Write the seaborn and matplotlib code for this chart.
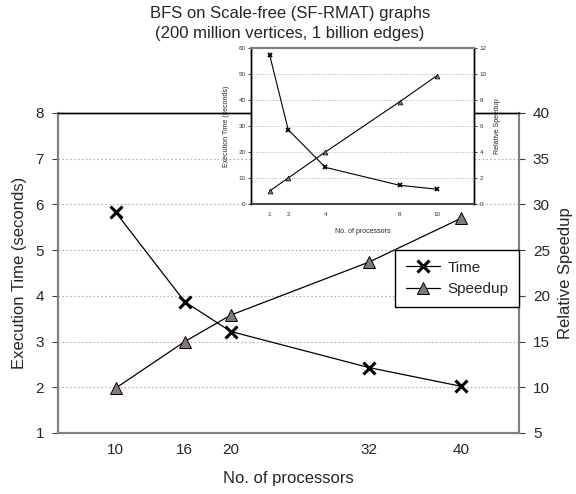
import matplotlib
matplotlib.use("Agg")
import matplotlib.pyplot as plt
import seaborn as sns
import pandas as pd

# main chart: 200M vertices, 1B edges
procs = [10, 16, 20, 32, 40]
exec_time = [5.83, 3.87, 3.22, 2.43, 2.02]
speedup = [9.9, 15.0, 17.9, 23.7, 28.5]

# inset chart
small_procs = [1, 2, 4, 8, 10]
small_time = [57.4, 28.6, 14.1, 7.2, 5.7]
small_speedup = [1.0, 2.0, 4.0, 7.87, 9.87]

sns.set_theme(style="white")
plt.rcParams['font.family'] = ['Liberation Sans', 'DejaVu Sans']

main_df = pd.DataFrame({"procs": procs, "time": exec_time, "speedup": speedup})
small_df = pd.DataFrame({"procs": small_procs, "time": small_time, "speedup": small_speedup})

spine_gray = "#808080"
grid_col = "#c4a8a8"

fig = plt.figure(figsize=(5.76, 4.94), dpi=100)
ax = fig.add_axes([0.1007, 0.1235, 0.8003, 0.6478])
ax2 = ax.twinx()

sns.lineplot(data=main_df, x="procs", y="time", ax=ax, color="black", lw=0.9,
             marker="x", markersize=8, markeredgewidth=2.2, markeredgecolor="black",
             label="Time", legend=False)
sns.lineplot(data=main_df, x="procs", y="speedup", ax=ax2, color="black", lw=0.9,
             marker="^", markersize=8, markerfacecolor="#857975", markeredgecolor="black",
             markeredgewidth=0.7, label="Speedup", legend=False)

ax.set_xlim(5, 45)
ax.set_ylim(1, 8)
ax2.set_ylim(5, 40)
ax.set_xticks(procs)
ax.set_yticks(range(1, 9))
ax2.set_yticks(range(5, 41, 5))
for y in range(2, 8):
    ax.axhline(y, color=grid_col, ls=(0, (1.5, 2)), lw=0.8, zorder=0)

for a in (ax, ax2):
    for s in ("left", "right", "bottom"):
        a.spines[s].set_color(spine_gray)
        a.spines[s].set_linewidth(1.5)
    a.spines["top"].set_color("black")
    a.spines["top"].set_linewidth(1.0)
    a.tick_params(length=4, width=0.8, color="#404040", labelsize=11, pad=6)

ax.tick_params(axis="x", pad=3)
ax.set_xlabel("No. of processors", fontsize=12, labelpad=10)
ax.set_ylabel("Execution Time (seconds)", fontsize=12, labelpad=6)
ax2.set_ylabel("Relative Speedup", fontsize=12, labelpad=6)

h1, l1 = ax.get_legend_handles_labels()
h2, l2 = ax2.get_legend_handles_labels()
leg = ax2.legend(h1 + h2, l1 + l2, loc="upper right", bbox_to_anchor=(1.0, 0.572),
                 borderaxespad=0, fancybox=False, framealpha=1, fontsize=11,
                 handlelength=2.2, handletextpad=0.5, borderpad=0.7)
leg.get_frame().set_edgecolor("black")
leg.get_frame().set_linewidth(1.0)

fig.text(0.503, 0.988, "BFS on Scale-free (SF-RMAT) graphs\n(200 million vertices, 1 billion edges)",
         ha="center", va="top", fontsize=12, linespacing=1.4)

# inset
ins = fig.add_axes([0.4358, 0.587, 0.3872, 0.3158], zorder=5)
ins.set_facecolor("white")
ins2 = ins.twinx()
ins2.set_zorder(6)
sns.lineplot(data=small_df, x="procs", y="time", ax=ins, color="black", lw=0.8,
             marker="x", markersize=3.5, markeredgewidth=1.3, markeredgecolor="black",
             legend=False)
sns.lineplot(data=small_df, x="procs", y="speedup", ax=ins2, color="black", lw=0.8,
             marker="^", markersize=3.5, markerfacecolor="#857975", markeredgecolor="black",
             markeredgewidth=0.5, legend=False)
ins.set_xlim(0, 12)
ins.set_ylim(0, 60)
ins2.set_ylim(0, 12)
ins.set_xticks(small_procs)
ins.set_yticks(range(0, 61, 10))
ins2.set_yticks(range(0, 13, 2))
for y in range(10, 60, 10):
    ins.axhline(y, color=grid_col, ls=(0, (1.2, 1.5)), lw=0.6, zorder=0)
for a in (ins, ins2):
    a.spines["top"].set_color(spine_gray)
    a.spines["top"].set_linewidth(1.5)
    a.spines["bottom"].set_color("#404040")
    a.spines["bottom"].set_linewidth(1.2)
    a.spines["left"].set_color("black")
    a.spines["left"].set_linewidth(1.0)
    a.spines["right"].set_color("black")
    a.spines["right"].set_linewidth(1.0)
    a.tick_params(length=2, width=0.6, labelsize=4.5, pad=2, labelcolor="#303030")
ins.tick_params(axis="x", pad=4)
ins.set_xlabel("No. of processors", fontsize=5, labelpad=8)
ins.set_ylabel("Execution Time (seconds)", fontsize=5, labelpad=6)
ins2.set_ylabel("Relative Speedup", fontsize=5, labelpad=5)

fig.savefig("out.png", dpi=100)
